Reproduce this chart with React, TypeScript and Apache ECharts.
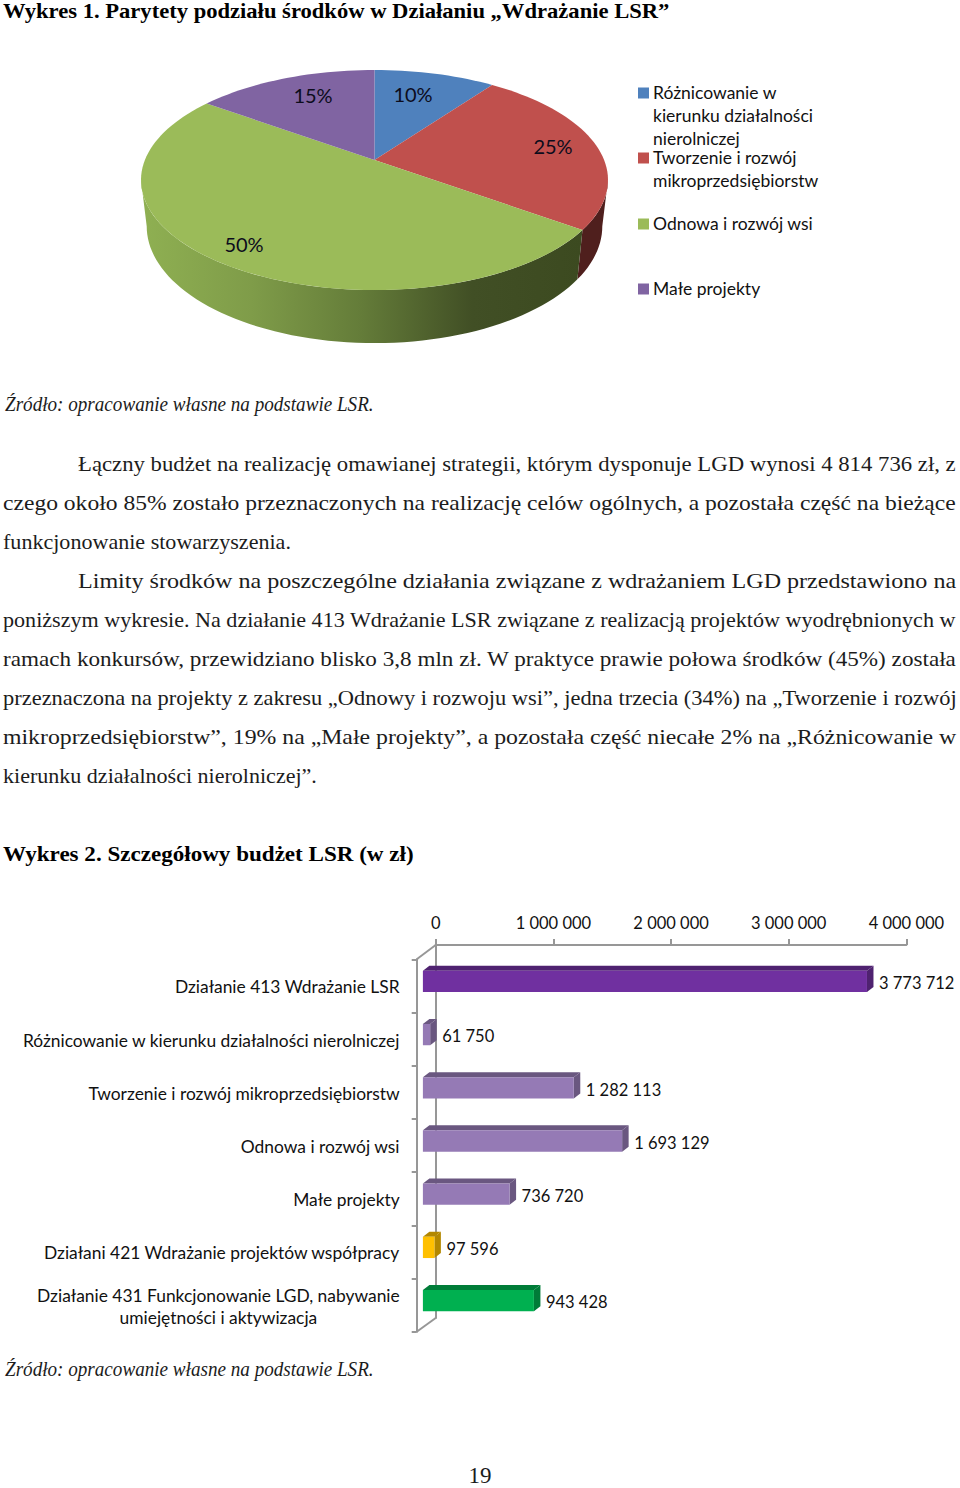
import React, { useEffect, useRef } from "react";
import * as echarts from "echarts";

const pieCategories = ["Różnicowanie w\nkierunku działalności\nnierolniczej", "Tworzenie i rozwój\nmikroprzedsiębiorstw", "Odnowa i rozwój wsi", "Małe projekty"];
const pieValues = [10, 25, 50, 15];
const pieColors = ["#4f81bd", "#c0504d", "#9bbb59", "#8064a2"];

const barCategories = [
  "Działanie 413 Wdrażanie LSR",
  "Różnicowanie w kierunku działalności nierolniczej",
  "Tworzenie i rozwój mikroprzedsiębiorstw",
  "Odnowa i rozwój wsi",
  "Małe projekty",
  "Działani 421 Wdrażanie projektów współpracy",
  "Działanie 431 Funkcjonowanie LGD, nabywanie\numiejętności i aktywizacja",
];
const barValues = [3773712, 61750, 1282113, 1693129, 736720, 97596, 943428];
const barFront = ["#7030a0", "#957ab5", "#957ab5", "#957ab5", "#957ab5", "#ffc000", "#00b050"];
const barDepth = ["#4f2270", "#6a5780", "#6a5780", "#6a5780", "#6a5780", "#b38800", "#007c38"];

const title1 = "Wykres 1. Parytety podziału środków w Działaniu „Wdrażanie LSR”";
const title2 = "Wykres 2. Szczegółowy budżet LSR (w zł)";
const sourceNote = "Źródło: opracowanie własne na podstawie LSR.";
const pageNumber = "19";
const bodyLines = [
  "Łączny budżet na realizację omawianej strategii, którym dysponuje LGD wynosi 4 814 736 zł, z",
  "czego około 85% zostało przeznaczonych na realizację celów ogólnych, a pozostała część na bieżące",
  "funkcjonowanie stowarzyszenia.",
  "Limity środków na poszczególne działania związane z wdrażaniem LGD przedstawiono na",
  "poniższym wykresie. Na działanie 413 Wdrażanie LSR związane z realizacją projektów wyodrębnionych w",
  "ramach konkursów, przewidziano blisko 3,8 mln zł. W praktyce prawie połowa środków (45%) została",
  "przeznaczona na projekty z zakresu „Odnowy i rozwoju wsi”, jedna trzecia (34%) na „Tworzenie i rozwój",
  "mikroprzedsiębiorstw”, 19% na „Małe projekty”, a pozostała część niecałe 2% na „Różnicowanie w",
  "kierunku działalności nierolniczej”.",
];

// layout (not data)
const bodyLayout: [number, number, number][] = [
  [78, 464, 879], [3, 503, 953], [3, 542, 288], [78, 581, 879], [3, 620, 954],
  [3, 659, 954], [3, 698, 954], [3, 737, 954], [3, 776, 314],
];
const pieLabelAnchors: [number, number][] = [[413, 94], [553, 146], [244, 244], [313, 95]];
const legendMarkerY = [93, 158, 224, 289];

const SANS = 'Lato, "Noto Sans", sans-serif';
const SERIF = '"Liberation Serif", serif';
const NUMBER_FONT = `16.5px ${SANS}`;
const LEGEND_FONT = `17.5px ${SANS}`;

const PK = 0.1818;
const topFace = { cx: 374.5, cy: 160, a: 229.6, b: 106.4 };
const bottomFace = { cx: 374.5, cy: 205, a: 224, b: 113 };

function project(deg: number, f: typeof topFace): number[] {
  const t = (deg * Math.PI) / 180;
  const u = Math.sin(t);
  const v = Math.cos(t);
  const w = 1 + PK * v;
  return [f.cx + (f.a * u) / w, f.cy - (f.b * v) / w];
}
function arc(from: number, to: number, f: typeof topFace): number[][] {
  const n = Math.max(2, Math.ceil(Math.abs(to - from) / 2));
  const pts: number[][] = [];
  for (let i = 0; i <= n; i++) pts.push(project(from + ((to - from) * i) / n, f));
  return pts;
}

const RIGHT_T = (Math.acos(-PK) * 180) / Math.PI;
const LEFT_T = 360 - RIGHT_T;

function renderPie(params: any, api: any) {
  const i = params.dataIndex;
  const total = pieValues.reduce((s, v) => s + v, 0);
  const before = pieValues.slice(0, i).reduce((s, v) => s + v, 0);
  const start = (before / total) * 360;
  const end = ((before + api.value(0)) / total) * 360;
  const children: any[] = [];
  const ws = Math.max(start, RIGHT_T);
  const we = Math.min(end, LEFT_T);
  if (we > ws) {
    const fill =
      i === 2
        ? new echarts.graphic.LinearGradient(0, 0, 1, 0, [
            { offset: 0, color: "#8fb052" },
            { offset: 0.25, color: "#7f9c49" },
            { offset: 0.5, color: "#647c39" },
            { offset: 0.75, color: "#414f25" },
            { offset: 1, color: "#3c4a20" },
          ])
        : "#4f1f1d";
    children.push({
      type: "polygon",
      shape: { points: [...arc(ws, we, topFace), ...arc(we, ws, bottomFace)] },
      style: { fill },
    });
  }
  children.push({
    type: "polygon",
    shape: { points: [[topFace.cx, topFace.cy], ...arc(start, end, topFace)] },
    style: { fill: pieColors[i] },
  });
  children.push({
    type: "text",
    x: pieLabelAnchors[i][0],
    y: pieLabelAnchors[i][1],
    style: { text: `${api.value(0)}%`, font: `20px ${SANS}`, fill: "#0c0c1c", align: "center", verticalAlign: "middle" },
  });
  return { type: "group", children };
}

const BAR_H = 21.3;
const DX = 6.5;
const DY = 5;
const FRONT_INSET = 6.2;
const BAR_LIFT = 4.5;
const fmtNum = (v: number) => String(v).replace(/\B(?=(\d{3})+(?!\d))/g, " ");

function renderBar(params: any, api: any) {
  const i = params.dataIndex;
  const v = api.value(0);
  const base = api.coord([0, i]);
  const end = api.coord([v, i]);
  const x0 = base[0] + FRONT_INSET;
  const x1 = end[0] + FRONT_INSET;
  const top = base[1] - BAR_H / 2 - BAR_LIFT;
  const bottom = top + BAR_H;
  return {
    type: "group",
    children: [
      { type: "polygon", shape: { points: [[x0, top], [x0 + DX, top - DY], [x1 + DX, top - DY], [x1, top]] }, style: { fill: barDepth[i] } },
      { type: "polygon", shape: { points: [[x1, top], [x1 + DX, top - DY], [x1 + DX, bottom - DY], [x1, bottom]] }, style: { fill: barDepth[i] } },
      { type: "rect", shape: { x: x0, y: top, width: x1 - x0, height: BAR_H }, style: { fill: barFront[i] } },
      {
        type: "text",
        x: x1 + DX + 5.5,
        y: (top + bottom) / 2 + 1.7,
        style: { text: fmtNum(v), font: NUMBER_FONT, fill: "#111", align: "left", verticalAlign: "middle" },
      },
    ],
  };
}

export default function App() {
  const ref = useRef<HTMLDivElement>(null);
  useEffect(() => {
    document.body.style.margin = "0";
    const chart = echarts.init(ref.current!, null, { renderer: "svg" });
    const ctx = document.createElement("canvas").getContext("2d")!;
    const fitted = (text: string, font: string, x: number, y: number, width: number, fill = "#1c1c1c") => {
      ctx.font = font;
      const w = ctx.measureText(text).width;
      return {
        type: "text",
        x,
        y,
        scaleX: width / w,
        style: { text, font, fill, align: "left", verticalAlign: "middle" },
      };
    };
    const bodyFont = `21px ${SERIF}`;
    const boldFont = `bold 22px ${SERIF}`;
    const italicFont = `italic 21px ${SERIF}`;
    const axisGray = "#979797";
    const elements: any[] = [
      fitted(title1, `bold 21px ${SERIF}`, 3, 11, 667, "#000"),
      fitted(title2, boldFont, 3, 854, 411, "#000"),
      fitted(sourceNote, italicFont, 5, 404, 369),
      fitted(sourceNote, italicFont, 5, 1369, 369),
      ...bodyLines.map((t, i) => fitted(t, bodyFont, bodyLayout[i][0], bodyLayout[i][1], bodyLayout[i][2])),
      { type: "text", x: 480, y: 1475.5, style: { text: pageNumber, font: `23px ${SERIF}`, fill: "#1c1c1c", align: "center", verticalAlign: "middle" } },
      { type: "line", shape: { x1: 416.7, y1: 959.3, x2: 435.7, y2: 945 }, style: { stroke: axisGray, lineWidth: 2 } },
      { type: "line", shape: { x1: 416.7, y1: 1331.7, x2: 435.7, y2: 1318 }, style: { stroke: axisGray, lineWidth: 2 } },
    ];
    pieCategories.forEach((name, i) => {
      elements.push({ type: "rect", shape: { x: 638, y: legendMarkerY[i] - 5.5, width: 11, height: 11 }, style: { fill: pieColors[i] } });
      name.split("\n").forEach((line, j) => {
        elements.push({
          type: "text",
          x: 653,
          y: legendMarkerY[i] - 0.8 + j * 23,
          style: { text: line, font: LEGEND_FONT, fill: "#111", align: "left", verticalAlign: "middle" },
        });
      });
    });

    chart.setOption({
      animation: false,
      backgroundColor: "#fff",
      grid: [
        { left: 435.7, top: 945, width: 470.7, height: 373 },
        { left: 416.7, top: 959.3, width: 470.7, height: 372.4 },
      ],
      xAxis: [
        {
          gridIndex: 0,
          type: "value",
          position: "top",
          min: 0,
          max: 4000000,
          interval: 1000000,
          axisLine: { show: true, onZero: false, lineStyle: { color: axisGray, width: 2 } },
          axisTick: { show: true, length: 6, lineStyle: { color: axisGray, width: 2 } },
          splitLine: { show: false },
          axisLabel: { margin: 14, color: "#111", fontFamily: SANS, fontSize: 16.5, formatter: (v: number) => fmtNum(v) },
        },
        { gridIndex: 1, type: "value", min: 0, max: 4000000, show: false },
      ],
      yAxis: [
        {
          gridIndex: 0,
          type: "category",
          inverse: true,
          data: barCategories,
          axisLine: { show: true, onZero: false, lineStyle: { color: axisGray, width: 2 } },
          axisTick: { show: false },
          axisLabel: { show: false },
        },
        {
          gridIndex: 1,
          type: "category",
          inverse: true,
          data: barCategories,
          axisLine: { show: true, onZero: false, lineStyle: { color: axisGray, width: 2 } },
          axisTick: { show: true, length: 5, lineStyle: { color: axisGray, width: 2 } },
          axisLabel: {
            interval: 0,
            margin: 17,
            align: "right",
            color: "#111",
            fontFamily: SANS,
            fontSize: 17.4,
            lineHeight: 22,
            padding: [2, 0, 0, 0],
            formatter: (v: string) => v.split("\n").map((l) => `{c|${l}}`).join("\n"),
            rich: { c: { align: "center", fontFamily: SANS, fontSize: 17.4, lineHeight: 22, color: "#111" } },
          },
        },
      ],
      series: [
        {
          type: "custom",
          name: "Parytety",
          coordinateSystem: "none",
          data: pieValues.map((v) => [v]),
          renderItem: renderPie,
          silent: true,
        },
        {
          type: "custom",
          name: "Budżet",
          coordinateSystem: "cartesian2d",
          xAxisIndex: 1,
          yAxisIndex: 1,
          data: barValues.map((v, i) => [v, i]),
          encode: { x: 0, y: 1 },
          clip: false,
          renderItem: renderBar,
          silent: true,
        },
      ],
      graphic: { elements },
    });
    return () => chart.dispose();
  }, []);
  return <div ref={ref} style={{ position: "absolute", left: 0, top: 0, width: 960, height: 1488 }} />;
}
